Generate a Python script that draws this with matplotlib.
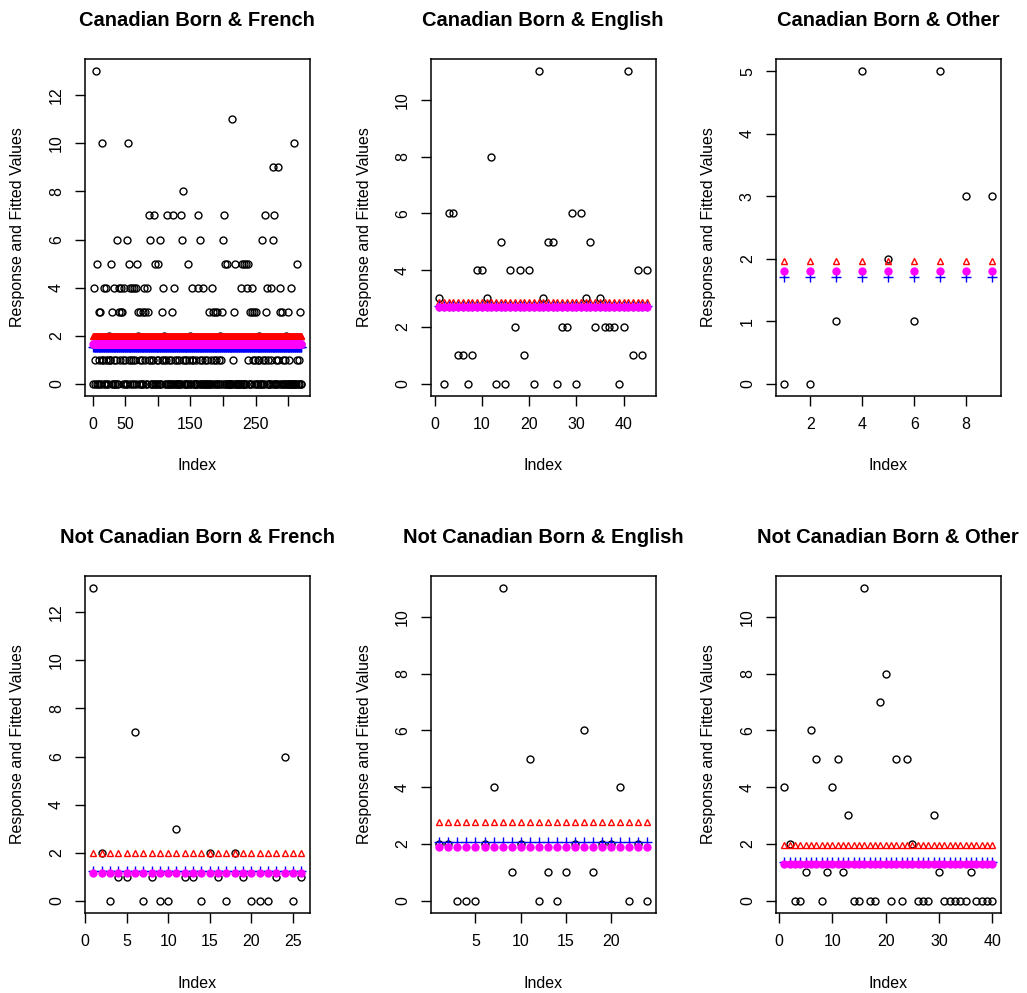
import numpy as np
import matplotlib
matplotlib.use('Agg')
import matplotlib.pyplot as plt

plt.rcParams['font.family'] = ['Liberation Sans', 'DejaVu Sans']

# Response counts per group
fr_cb = [0, 4, 1, 0, 13, 5, 0, 0, 3, 1, 0, 3, 0, 1, 10, 1, 4, 0, 0, 1,
         4, 0, 1, 0, 2, 1, 1, 5, 0, 3, 0, 4, 1, 0, 0, 1, 0, 6, 0, 3,
         4, 1, 3, 4, 3, 0, 1, 4, 0, 1, 0, 6, 0, 10, 1, 5, 4, 0, 1, 4,
         0, 1, 4, 0, 1, 0, 4, 5, 3, 2, 0, 1, 3, 0, 0, 1, 3, 0, 4, 1,
         3, 0, 4, 0, 3, 1, 7, 6, 1, 0, 0, 1, 0, 7, 0, 5, 0, 1, 0, 1,
         5, 0, 6, 0, 0, 1, 3, 4, 1, 2, 0, 1, 0, 7, 0, 0, 1, 0, 0, 1,
         3, 0, 7, 0, 4, 1, 0, 0, 1, 0, 0, 1, 0, 0, 7, 0, 6, 1, 8, 0,
         1, 0, 0, 1, 0, 5, 0, 1, 0, 2, 0, 1, 4, 1, 0, 0, 0, 1, 0, 0,
         7, 4, 0, 6, 1, 0, 0, 1, 0, 4, 0, 1, 0, 0, 0, 1, 0, 0, 3, 0,
         1, 0, 4, 3, 0, 1, 3, 0, 0, 1, 3, 0, 0, 1, 2, 0, 1, 3, 0, 6,
         0, 7, 5, 0, 0, 5, 0, 0, 0, 0, 0, 0, 0, 11, 0, 1, 3, 0, 5, 0,
         0, 0, 0, 0, 0, 0, 0, 4, 5, 0, 0, 5, 0, 0, 5, 0, 4, 1, 5, 0,
         3, 0, 0, 3, 4, 1, 3, 0, 1, 0, 3, 0, 1, 0, 2, 1, 0, 0, 0, 6,
         0, 1, 0, 1, 7, 3, 4, 0, 1, 0, 0, 0, 1, 4, 0, 6, 9, 0, 7, 0,
         1, 0, 0, 1, 9, 0, 4, 3, 0, 3, 0, 1, 0, 0, 1, 0, 2, 0, 0, 3,
         1, 0, 0, 0, 4, 0, 0, 0, 10, 0, 0, 0, 1, 5, 0, 1, 0, 3, 0, 0]
en_cb = [3, 0, 6, 6, 1, 1, 0, 1, 4, 4, 3, 8, 0, 5, 0, 4, 2, 4, 1, 4,
         0, 11, 3, 5, 5, 0, 2, 2, 6, 0, 6, 3, 5, 2, 3, 2, 2, 2, 0, 2,
         11, 1, 4, 1, 4]
ot_cb = [0, 0, 1, 5, 2, 1, 5, 3, 3]
fr_ncb = [13, 2, 0, 1, 1, 7, 0, 1, 0, 0, 3, 1, 1, 0, 2, 1, 0, 2, 1, 0,
          0, 0, 1, 6, 0, 1]
en_ncb = [2, 2, 0, 0, 0, 2, 4, 11, 1, 2, 5, 0, 1, 0, 1, 2, 6, 1, 2, 2,
          4, 0, 2, 0]
ot_ncb = [4, 2, 0, 0, 1, 6, 5, 0, 1, 4, 5, 1, 3, 0, 0, 11, 0, 0, 7, 8,
          0, 5, 0, 5, 2, 0, 0, 0, 3, 1, 0, 0, 0, 0, 0, 1, 0, 0, 0, 0]

titles = ['Canadian Born & French', 'Canadian Born & English', 'Canadian Born & Other',
          'Not Canadian Born & French', 'Not Canadian Born & English', 'Not Canadian Born & Other']
responses = [fr_cb, en_cb, ot_cb, fr_ncb, en_ncb, ot_ncb]

# fitted values of the three models (one constant per group)
fit_red = [2.00, 2.88, 1.97, 1.97, 2.78, 1.96]
fit_blue = [1.53, 2.72, 1.71, 1.21, 2.08, 1.36]
fit_mag = [1.64, 2.70, 1.81, 1.15, 1.90, 1.28]

xticks = [[0, 50, 100, 150, 200, 250, 300], [0, 10, 20, 30, 40], [2, 4, 6, 8],
          [0, 5, 10, 15, 20, 25], [5, 10, 15, 20], [0, 10, 20, 30, 40]]
xticklabels = [['0', '50', '', '150', '', '250', ''], None, None, None, None, None]
yticks = [[0, 2, 4, 6, 8, 10, 12], [0, 2, 4, 6, 8, 10], [0, 1, 2, 3, 4, 5],
          [0, 2, 4, 6, 8, 10, 12], [0, 2, 4, 6, 8, 10], [0, 2, 4, 6, 8, 10]]

W, H = 1027, 993
fig = plt.figure(figsize=(W / 100, H / 100), dpi=100)

lefts = [85, 431, 776]
tops = [59, 576]
bw, bh = 224.5, 337

for k in range(6):
    r, c = divmod(k, 3)
    ax = fig.add_axes([lefts[c] / W, 1 - (tops[r] + bh) / H, bw / W, bh / H])
    y = np.array(responses[k])
    x = np.arange(1, len(y) + 1)
    ax.plot(x, y, 'o', mfc='none', mec='black', ms=5.0, mew=1.0, ls='none')
    ax.plot(x, np.full(len(y), fit_red[k]), '^', mfc='none', mec='#FF0000', ms=4.8, mew=1.0, ls='none')
    ax.plot(x, np.full(len(y), fit_blue[k]), '+', color='#0000FF', ms=6.5, mew=1.0, ls='none')
    ax.plot(x, np.full(len(y), fit_mag[k]), 'o', color='#FF00FF', mec='#FF00FF', ms=5.0, ls='none')

    n = len(y)
    ax.set_xlim(1 - 0.04 * (n - 1), n + 0.04 * (n - 1))
    ymin, ymax = y.min(), y.max()
    ax.set_ylim(ymin - 0.04 * (ymax - ymin), ymax + 0.04 * (ymax - ymin))

    ax.set_xticks(xticks[k])
    if xticklabels[k] is not None:
        ax.set_xticklabels(xticklabels[k])
    ax.set_yticks(yticks[k])
    ax.tick_params(axis='both', direction='out', length=7.2, width=1.0, pad=8,
                   labelsize=11.5, colors='black')
    for lab in ax.get_yticklabels():
        lab.set_rotation(90)
        lab.set_va('center')
    for s in ax.spines.values():
        s.set_linewidth(1.1)

    ax.set_title(titles[k], fontsize=14.5, fontweight='bold', pad=24)
    ax.set_xlabel('Index', fontsize=11.5, va='center')
    ax.xaxis.set_label_coords(0.5, -70 / bh)
    ax.set_ylabel('Response and Fitted Values', fontsize=11.5, va='center')
    ax.yaxis.set_label_coords(-67 / bw, 0.5)

fig.savefig('out.png', dpi=100)
